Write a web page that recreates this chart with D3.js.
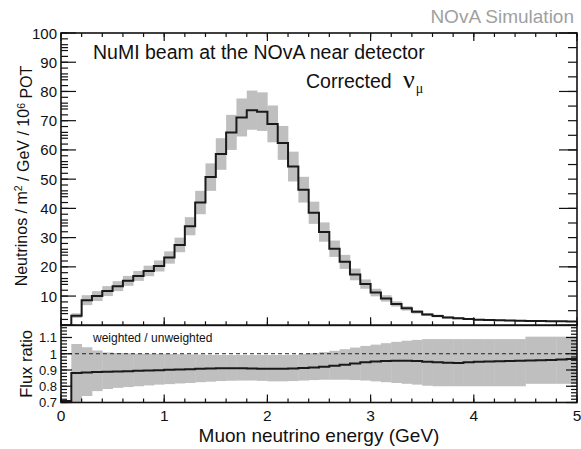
<!DOCTYPE html>
<html><head><meta charset="utf-8">
<script src="https://cdn.jsdelivr.net/npm/d3@7"></script>
<style>
body{margin:0;background:#fff}
svg{display:block}
text{font-family:"Liberation Sans",Arial,Helvetica,sans-serif;fill:#111}
</style>
</head><body>
<svg id="c" width="581" height="449"></svg>
<script>
// ---- data, bins of 0.1 GeV from 0 to 5 GeV ----
const binWidth = 0.1;
const fluxValues = [0, 3.3, 8.6, 10.0, 11.7, 13.4, 15.2, 16.9, 18.6, 20.3,
  23.2, 27.5, 33.9, 42.0, 50.7, 58.6, 66.0, 71.1, 73.6, 73.1,
  68.9, 62.4, 54.3, 46.4, 38.5, 31.9, 26.2, 21.7, 17.4, 14.1,
  11.2, 9.2, 7.3, 5.8, 4.6, 3.7, 3.2, 2.7, 2.4, 2.15,
  1.9, 1.8, 1.7, 1.6, 1.55, 1.5, 1.45, 1.4, 1.35, 1.3];
const fluxErrors = [0, 0.8, 1.7, 1.7, 1.7, 1.7, 1.7, 1.7, 1.8, 1.9,
  2.1, 2.5, 3.1, 4.0, 4.7, 5.4, 6.0, 6.5, 6.7, 6.6,
  6.3, 5.8, 5.1, 4.4, 3.8, 3.3, 2.8, 2.4, 2.0, 1.6,
  1.3, 1.1, 0.9, 0.75, 0.6, 0.5, 0.45, 0.4, 0.35, 0.3,
  0.3, 0.3, 0.25, 0.25, 0.25, 0.2, 0.2, 0.2, 0.2, 0.2];
const ratioValues = [0.71, 0.882, 0.885, 0.887, 0.889, 0.891, 0.893, 0.895, 0.897, 0.899,
  0.901, 0.903, 0.905, 0.907, 0.909, 0.910, 0.910, 0.910, 0.909, 0.908,
  0.908, 0.908, 0.909, 0.912, 0.915, 0.920, 0.926, 0.933, 0.940, 0.947,
  0.952, 0.955, 0.957, 0.957, 0.955, 0.950, 0.947, 0.944, 0.943, 0.947,
  0.950, 0.952, 0.954, 0.955, 0.957, 0.958, 0.960, 0.962, 0.965, 0.967];
const ratioBandLow = [0.71, 0.69, 0.74, 0.77, 0.783, 0.79, 0.795, 0.80, 0.805, 0.81,
  0.813, 0.817, 0.82, 0.825, 0.828, 0.832, 0.834, 0.835, 0.835, 0.833,
  0.83, 0.83, 0.832, 0.835, 0.838, 0.84, 0.84, 0.84, 0.838, 0.835,
  0.83, 0.825, 0.82, 0.815, 0.81, 0.803, 0.80, 0.80, 0.80, 0.80,
  0.80, 0.80, 0.80, 0.80, 0.80, 0.815, 0.815, 0.815, 0.815, 0.815];
const ratioBandHigh = [0.71, 1.06, 1.04, 1.02, 1.008, 1.005, 1.003, 1.0, 1.0, 1.0,
  0.998, 0.997, 0.996, 0.995, 0.993, 0.992, 0.992, 0.992, 0.992, 0.992,
  0.992, 0.992, 0.993, 0.998, 1.004, 1.01, 1.018, 1.028, 1.038, 1.048,
  1.056, 1.065, 1.073, 1.08, 1.085, 1.09, 1.09, 1.09, 1.09, 1.09,
  1.09, 1.09, 1.09, 1.09, 1.09, 1.105, 1.105, 1.105, 1.105, 1.105];
const xTickLabels = [0, 1, 2, 3, 4, 5];
const yTopTickLabels = [10, 20, 30, 40, 50, 60, 70, 80, 90, 100];
const yBotTickLabels = [0.7, 0.8, 0.9, 1, 1.1];

// ---- layout ----
const svg = d3.select("#c");
const L = 61, R = 577, T = 33, M = 325.3, B = 402.5;
const x = d3.scaleLinear().domain([0, 5]).range([L, R]);
const yT = d3.scaleLinear().domain([0, 100]).range([M, T]);
const yB = d3.scaleLinear().domain([0.7, 1.175]).range([B, M]);
const GRAY = "#bfbfbf";

const defs = svg.append("defs");
defs.append("clipPath").attr("id", "clipTop").append("rect")
  .attr("x", L).attr("y", T).attr("width", R - L).attr("height", M - T);
defs.append("clipPath").attr("id", "clipBot").append("rect")
  .attr("x", L).attr("y", M).attr("width", R - L).attr("height", B - M);

// ---- top panel ----
const gTop = svg.append("g").attr("clip-path", "url(#clipTop)");
gTop.selectAll("rect.err").data(fluxValues.map((v, i) => ({v, e: fluxErrors[i], i})).filter(d => d.e > 0))
  .enter().append("rect").attr("class", "err")
  .attr("x", d => x(d.i * binWidth))
  .attr("width", x(binWidth) - x(0) + 0.3)
  .attr("y", d => yT(d.v + d.e))
  .attr("height", d => yT(d.v - d.e) - yT(d.v + d.e))
  .attr("fill", GRAY);

const stepPts = fluxValues.map((v, i) => [x(i * binWidth), yT(v)]);
stepPts.push([x(fluxValues.length * binWidth), yT(fluxValues[fluxValues.length - 1])]);
gTop.append("path").attr("d", d3.line().curve(d3.curveStepAfter)(stepPts))
  .attr("fill", "none").attr("stroke", "#1a1a1a").attr("stroke-width", 2);

// ---- bottom panel ----
const gBot = svg.append("g").attr("clip-path", "url(#clipBot)");
gBot.selectAll("rect.band").data(ratioValues.map((v, i) => ({lo: ratioBandLow[i], hi: ratioBandHigh[i], i})).filter(d => d.hi > d.lo))
  .enter().append("rect").attr("class", "band")
  .attr("x", d => x(d.i * binWidth))
  .attr("width", x(binWidth) - x(0) + 0.4)
  .attr("y", d => yB(d.hi))
  .attr("height", d => yB(d.lo) - yB(d.hi))
  .attr("fill", GRAY);
gBot.append("line").attr("x1", L).attr("x2", R).attr("y1", yB(1)).attr("y2", yB(1))
  .attr("stroke", "#222").attr("stroke-width", 1).attr("stroke-dasharray", "4,3");
const rPts = ratioValues.map((v, i) => [x(i * binWidth), yB(v)]);
rPts.push([x(ratioValues.length * binWidth), yB(ratioValues[ratioValues.length - 1])]);
gBot.append("path").attr("d", d3.line().curve(d3.curveStepAfter)(rPts))
  .attr("fill", "none").attr("stroke", "#1a1a1a").attr("stroke-width", 2);

// ---- ticks ----
function ticks(g, vals, fn) {
  vals.forEach(v => { const a = fn(v); g.append("line").attr("x1", a[0]).attr("y1", a[1]).attr("x2", a[2]).attr("y2", a[3]); });
}
const gt = svg.append("g").attr("stroke", "#111").attr("stroke-width", 1.2);
const rng = (a, b, s) => d3.range(Math.round((b - a) / s) + 1).map(k => +(a + k * s).toFixed(4));
// top panel left
ticks(gt, rng(0, 100, 2), v => [L, yT(v), L + 7, yT(v)]);
ticks(gt, rng(5, 95, 10), v => [L, yT(v), L + 7, yT(v)]);
ticks(gt, rng(0, 100, 10), v => [L, yT(v), L + 15, yT(v)]);
// top panel right
ticks(gt, rng(0, 100, 5), v => [R, yT(v), R - 9, yT(v)]);
ticks(gt, rng(0, 100, 20), v => [R, yT(v), R - 18, yT(v)]);
// top panel x ticks (bottom and top)
ticks(gt, rng(0, 5, 0.2), v => [x(v), M, x(v), M - 4]);
ticks(gt, rng(0, 5, 1), v => [x(v), M, x(v), M - 8]);
ticks(gt, rng(0, 5, 0.2), v => [x(v), T, x(v), T + 4]);
ticks(gt, rng(0, 5, 1), v => [x(v), T, x(v), T + 8]);
// bottom panel
ticks(gt, rng(0.7, 1.16, 0.02), v => [L, yB(v), L + 6, yB(v)]);
ticks(gt, rng(0.7, 1.1, 0.1), v => [L, yB(v), L + 11, yB(v)]);
ticks(gt, rng(0.7, 1.16, 0.02), v => [R, yB(v), R - 6, yB(v)]);
ticks(gt, rng(0.7, 1.1, 0.1), v => [R, yB(v), R - 11, yB(v)]);
ticks(gt, rng(0, 5, 0.2), v => [x(v), B, x(v), B - 4]);
ticks(gt, rng(0, 5, 1), v => [x(v), B, x(v), B - 8]);

// ---- frames ----
svg.append("rect").attr("x", L).attr("y", T).attr("width", R - L).attr("height", M - T)
  .attr("fill", "none").attr("stroke", "#111").attr("stroke-width", 1.6);
svg.append("rect").attr("x", L).attr("y", M).attr("width", R - L).attr("height", B - M)
  .attr("fill", "none").attr("stroke", "#111").attr("stroke-width", 1.6);

// ---- tick labels ----
svg.selectAll("text.yt").data(yTopTickLabels).enter().append("text")
  .attr("x", 57).attr("y", d => yT(d) + 5.5).attr("text-anchor", "end")
  .style("font-size", "15px").text(d => d);
svg.selectAll("text.yb").data(yBotTickLabels).enter().append("text")
  .attr("x", 57).attr("y", d => yB(d) + 4.8).attr("text-anchor", "end")
  .style("font-size", "13px").text(d => d);
svg.selectAll("text.xt").data(xTickLabels).enter().append("text")
  .attr("x", d => x(d)).attr("y", 421).attr("text-anchor", "middle")
  .style("font-size", "15.5px").text(d => d);

// ---- titles ----
svg.append("text").attr("x", x(2.5)).attr("y", 442).attr("text-anchor", "middle")
  .style("font-size", "19px").text("Muon neutrino energy (GeV)");

const yt = svg.append("text").attr("transform", `translate(27,176) rotate(-90)`)
  .attr("text-anchor", "middle").style("font-size", "16px");
yt.append("tspan").text("Neutrinos / m");
yt.append("tspan").attr("dy", "-0.45em").style("font-size", "10.5px").text("2");
yt.append("tspan").attr("dy", "0.45em").text(" / GeV / 10");
yt.append("tspan").attr("dy", "-0.45em").style("font-size", "10.5px").text("6");
yt.append("tspan").attr("dy", "0.45em").text(" POT");

svg.append("text").attr("transform", `translate(31.5,${(M + B) / 2}) rotate(-90)`)
  .attr("text-anchor", "middle").style("font-size", "16.5px").text("Flux ratio");

svg.append("text").attr("x", 93).attr("y", 58.5).style("font-size", "19.5px")
  .text("NuMI beam at the NOvA near detector");
const cor = svg.append("text").attr("x", 306).attr("y", 88).style("font-size", "19.5px");
cor.append("tspan").text("Corrected ");
cor.append("tspan").attr("dx", 6).style("font-family", "'Liberation Serif','DejaVu Serif',serif").style("font-size", "26px").text("ν");
cor.append("tspan").attr("dy", 5).attr("dx", 1).style("font-family", "'Liberation Serif','DejaVu Serif',serif").style("font-size", "14px").text("μ");

svg.append("text").attr("x", 574).attr("y", 23).attr("text-anchor", "end")
  .style("font-size", "19px").style("fill", "#a0a0a0").text("NOvA Simulation");

svg.append("text").attr("x", 93).attr("y", 341.5).style("font-size", "12px").text("weighted / unweighted");
</script>
</body></html>
